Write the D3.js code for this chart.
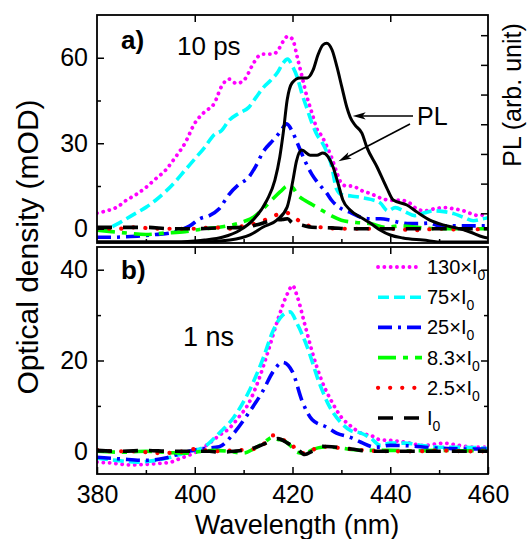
<!DOCTYPE html>
<html><head><meta charset="utf-8">
<script src="https://cdn.jsdelivr.net/npm/d3@7"></script>
<style>
html,body{margin:0;padding:0;background:#fff;}
svg{display:block;font-family:"Liberation Sans", Arial, sans-serif;}
</style></head><body>
<svg id="chart" width="527" height="539"></svg>
<script>
// ---------- data ----------
const wavelengthTicks = [380, 400, 420, 440, 460];
const wavelengthMinor = [390, 410, 430, 450];
const odTicksA = [0, 30, 60];
const odMinorA = [15, 45];
const odTicksB = [0, 20, 40];
const odMinorB = [10, 30];
const plTicks = [1, 2, 3, 4, 5, 6, 7];

const legendBase = ["130×I", "75×I", "25×I", "8.3×I", "2.5×I", "I"];
const legendSub = ["0", "0", "0", "0", "0", "0"];

// 10 ps transient absorption (mOD) for each excitation intensity
const a130 = [[380,5.5],[382,6.3],[384,7.5],[386,10],[388,12],[390,14.5],[392,17.5],[394,20.5],[396,25],[398,30],[400,37],[402,41],[404,44],[405.5,50],[407,52.5],[408.5,51],[410,52],[412,58],[413,60.5],[414,61.3],[416,61.3],[417,62.5],[418,65.5],[419,67.5],[420,66.5],[421,60],[422,53],[423,46],[424,40.5],[425,35],[426,32.5],[427,29],[428,25],[429,20],[430,16],[431,15],[432,15],[433,14.5],[434,13.5],[436,12.3],[438,10.8],[440,10],[442,10],[444,9],[445,7.5],[447,6.3],[449,7],[451,7.4],[453,7],[455,6.3],[457,5],[458,4.6],[460,5.5]];
const a75 = [[380,-0.5],[382,0],[384,1.5],[386,3.5],[388,5.5],[390,7.5],[392,10],[394,13],[396,16.5],[398,20.5],[400,24.5],[402,28.5],[404,33],[405.5,34.5],[407,38],[409,40.5],[411,42.5],[412.5,46],[414,49.5],[415.5,52],[417,55],[418,58],[419,59.5],[420,57],[421,53],[422,47],[423,42],[424,37],[425,33],[426,30.5],[427,27],[428,22],[429,14],[430,12],[432,11.5],[434,11],[436,10.3],[438,9],[439.5,6.3],[441,7.4],[443,6],[445,4.6],[447,5.6],[449,6.3],[451,6],[453,5.3],[455,4],[457,2.8],[459,3.5],[460,3.9]];
const a25 = [[380,-3],[383,-3],[386,-2.8],[389,-2.5],[392,-2],[395,-1.5],[397,-0.5],[399,1],[401,3.5],[403,4.6],[405,7],[407,12],[409,15.5],[411,18],[412.5,22],[414,27],[416,31],[417.5,34],[418.8,36.8],[420,34],[421,30],[422.5,24],[424,19],[425.5,15.5],[427,12.5],[428,10],[430,7],[432,5.6],[434,4],[436,3.5],[438,3.5],[440,3],[442,2.2],[444,1.8],[446,1.8],[448,2],[450,1],[452,1],[455,1],[458,1],[460,1]];
const a8 = [[380,-0.5],[383,-1],[386,-1.5],[390,-2],[394,-1.5],[398,-1],[400,-0.5],[402,0],[405,0.5],[408,1.5],[410,2.5],[412,4],[414,7],[416,10.5],[417.5,13],[419,15],[420,14.5],[421,12],[422.5,10],[424,8.5],[426,6.5],[428,4.5],[430,3],[433,2.2],[436,1.8],[439,0.5],[442,1],[446,0.4],[450,0],[455,0],[460,0]];
const a2 = [[380,0],[384,0],[388,0.5],[392,0],[396,0],[400,0],[404,0.5],[407,0],[410,1],[413,2.2],[415,3.5],[417,5],[419,5.5],[420,4.5],[422,2],[424,0.8],[426,0.5],[430,0],[435,0],[440,0],[445,-0.5],[450,0],[455,-0.3],[460,0]];
const a1 = [[380,0.5],[385,0.5],[390,0.5],[395,0],[400,0],[405,0.3],[410,0.5],[413,1.5],[416,3],[418,3.3],[419,3.5],[420,2],[422,1.2],[424,0.5],[428,0.3],[432,0],[440,0],[450,0],[460,0]];

// photoluminescence spectra (arb. unit, right axis)
const plOuter = [[380,0.03],[395,0.03],[400,0.07],[402,0.1],[405.8,0.2],[409.3,0.44],[411.9,0.77],[414.8,1.45],[416.4,2.12],[417.4,2.9],[418.1,3.7],[418.9,4.81],[419.9,5.39],[421.5,5.56],[423,5.56],[424.2,5.82],[425.2,6.33],[426.2,6.67],[427,6.73],[428.1,6.5],[429.1,5.93],[430.1,5.25],[431.1,4.58],[431.8,4.24],[432.8,3.97],[434.2,3.7],[435.2,3.23],[437.3,2.56],[439.3,1.85],[440.6,1.45],[443.4,1.28],[445.5,1.04],[448.1,0.77],[450.8,0.61],[453.7,0.5],[456.3,0.37],[459,0.2],[460,0.17]];
const plInner = [[380,0.03],[401,0.03],[407.2,0.1],[411.3,0.27],[414,0.54],[416.8,0.77],[418.9,1.21],[420.1,2.12],[420.8,2.75],[421.9,3.13],[423.6,2.96],[425,2.96],[426.2,3.03],[427.3,2.9],[428.3,2.56],[429.3,2.02],[430.3,1.45],[431.8,1.11],[434.2,0.84],[435.9,0.67],[437.9,0.44],[440,0.27],[442.6,0.17],[446.7,0.1],[450.8,0.03],[460,0.03]];

// 1 ns transient absorption (mOD)
const b130 = [[380,-2.4],[383,-2.6],[387,-3],[391,-2.8],[395,-2.4],[397,-1.6],[400,-0.3],[403,1.8],[405,3.5],[407,5],[409,7.5],[411,10.5],[413,15.5],[415,22],[417,29],[419,34.8],[420,36.5],[421,34],[422.5,28],[424,22],[426,15.5],[428,11],[430,7.5],[432,5.5],[434,4],[436,3.5],[438,2.5],[440,2.4],[443,2],[447,1.3],[451,1.8],[454,1.3],[457,0.9],[460,0.9]];
const b75 = [[380,-1.5],[384,-2],[388,-2.4],[392,-2],[396,-1],[399,0],[402,1],[405,4],[408,7.5],[411,13],[414,20.5],[416,26.5],[418,30],[419.5,30.7],[421,28],[423,23],[425.5,15],[427.5,10],[430,6.2],[432,4.5],[434,4],[436,2.9],[438,1.3],[440,1.8],[443,1.8],[447,1.2],[450,0.9],[455,0.9],[460,0.6]];
const b25 = [[380,-1.3],[385,-1.7],[390,-2],[394,-1.5],[397,-0.5],[401,0.5],[405,1],[408,4],[411,8.4],[414,13.4],[416,17.5],[418,19.6],[420,17.5],[422,11],[424,7],[427,5.3],[429,4],[432,3],[434,2],[437,0.9],[440,1.3],[444,1.2],[448,0.8],[452,0.6],[456,0.5],[460,0.5]];
const b8 = [[380,0],[385,-0.2],[390,0],[395,-0.3],[398,-0.4],[400,-0.2],[404,0.2],[407,0],[410,-0.4],[412,0.5],[414,1.8],[416,3.1],[417,2.6],[418,2.5],[419.5,1.3],[421,-0.2],[422.5,-0.5],[424,0.3],[426,0.9],[428,0.9],[430,0.7],[432,0.4],[435,0.2],[440,0.2],[445,0.1],[450,0.2],[455,0.1],[460,0.2]];
const b2 = [[380,0.3],[384,0],[388,0],[392,-0.4],[396,-0.3],[400,0.5],[404,0],[408,0.2],[412,0.5],[414,1.5],[416,3.5],[418,2.5],[419.5,2],[421,0],[423,-0.5],[425,0.8],[427,1],[430,0.7],[434,0.3],[440,0],[445,0],[450,0.2],[455,0],[460,0]];
const b1 = [[380,0.2],[385,0],[390,0.2],[395,0],[400,0],[403,0],[405,-0.2],[408,0],[412,0.7],[415,2],[417,2.8],[419,1.8],[421,0.5],[422.5,-0.7],[424,0],[426,1.1],[428,1],[432,0.5],[436,0],[440,0],[450,0],[460,0]];

// ---------- styles ----------
const seriesStyles = [
  {color: "#ff00ff", dash: "0.1,6.2", cap: "round", width: 3.8},
  {color: "#00ffff", dash: "11,5", cap: "butt", width: 3.6},
  {color: "#0000ff", dash: "14,6,3,6", cap: "butt", width: 3.6},
  {color: "#00ff00", dash: "18,7,5,7", cap: "butt", width: 3.6},
  {color: "#ff0000", dash: "0.1,12", cap: "round", width: 4.2},
  {color: "#000000", dash: "15,11", cap: "butt", width: 3.6}
];

// ---------- layout ----------
const svg = d3.select("#chart");
const L = 97, R = 488;
const topA = 15, botA = 243, topB = 247, botB = 474;

const x = d3.scaleLinear().domain([380, 460]).range([L, R]);
const yA = d3.scaleLinear().domain([-5, 75]).range([botA, topA]);
const yPL = d3.scaleLinear().domain([0, 7.68]).range([botA, topA]);
const yB = d3.scaleLinear().domain([-5, 45]).range([botB, topB]);

const defs = svg.append("defs");
defs.append("clipPath").attr("id", "clipA").append("rect")
  .attr("x", L).attr("y", topA).attr("width", R - L).attr("height", botA - topA);
defs.append("clipPath").attr("id", "clipB").append("rect")
  .attr("x", L).attr("y", topB).attr("width", R - L).attr("height", botB - topB);

function drawSeries(g, data, y, st) {
  const line = d3.line().x(d => x(d[0])).y(d => y(d[1])).curve(d3.curveMonotoneX);
  g.append("path").attr("d", line(data))
    .attr("fill", "none").attr("stroke", st.color)
    .attr("stroke-width", st.width).attr("stroke-dasharray", st.dash)
    .attr("stroke-linecap", st.cap).attr("stroke-linejoin", "round");
}

// panel a curves
const gA = svg.append("g").attr("clip-path", "url(#clipA)");
[a130, a75, a25, a8, a2, a1].forEach((d, i) => drawSeries(gA, d, yA, seriesStyles[i]));
const plLine = d3.line().x(d => x(d[0])).y(d => yPL(d[1])).curve(d3.curveMonotoneX);
[plOuter, plInner].forEach(d => {
  gA.append("path").attr("d", plLine(d)).attr("fill", "none")
    .attr("stroke", "#000").attr("stroke-width", 3).attr("stroke-linejoin", "round");
});

// panel b curves
const gB = svg.append("g").attr("clip-path", "url(#clipB)");
[b130, b75, b25, b8, b2, b1].forEach((d, i) => drawSeries(gB, d, yB, seriesStyles[i]));

// ---------- axes ----------
const fontTick = 25;
function styleAxis(g) {
  g.select(".domain").remove();
  g.selectAll(".tick line").attr("stroke", "#000").attr("stroke-width", 1.5);
  g.selectAll(".tick text").attr("fill", "#000").style("font-size", fontTick + "px")
    .style("font-family", '"Liberation Sans", Arial, sans-serif');
}
const noLabel = () => "";

// panel a left
svg.append("g").attr("transform", `translate(${L},0)`)
  .call(d3.axisLeft(yA).tickValues(odTicksA).tickSize(-7).tickPadding(9)).call(styleAxis);
svg.append("g").attr("transform", `translate(${L},0)`)
  .call(d3.axisLeft(yA).tickValues(odMinorA).tickSize(-4).tickFormat(noLabel)).call(styleAxis);
// panel a right (PL)
svg.append("g").attr("transform", `translate(${R},0)`)
  .call(d3.axisRight(yPL).tickValues(plTicks).tickSize(-7).tickFormat(noLabel)).call(styleAxis);
// panel a top and bottom
svg.append("g").attr("transform", `translate(0,${topA})`)
  .call(d3.axisTop(x).tickValues(wavelengthTicks.slice(1, -1)).tickSize(-7).tickFormat(noLabel)).call(styleAxis);
svg.append("g").attr("transform", `translate(0,${botA})`)
  .call(d3.axisBottom(x).tickValues(wavelengthTicks.slice(1, -1)).tickSize(-7).tickFormat(noLabel)).call(styleAxis);
svg.append("g").attr("transform", `translate(0,${botA})`)
  .call(d3.axisBottom(x).tickValues(wavelengthMinor).tickSize(-4).tickFormat(noLabel)).call(styleAxis);

// panel b left
svg.append("g").attr("transform", `translate(${L},0)`)
  .call(d3.axisLeft(yB).tickValues(odTicksB).tickSize(-7).tickPadding(9)).call(styleAxis);
svg.append("g").attr("transform", `translate(${L},0)`)
  .call(d3.axisLeft(yB).tickValues(odMinorB).tickSize(-4).tickFormat(noLabel)).call(styleAxis);
// panel b right
svg.append("g").attr("transform", `translate(${R},0)`)
  .call(d3.axisRight(yB).tickValues(odTicksB).tickSize(-7).tickFormat(noLabel)).call(styleAxis);
svg.append("g").attr("transform", `translate(${R},0)`)
  .call(d3.axisRight(yB).tickValues(odMinorB).tickSize(-4).tickFormat(noLabel)).call(styleAxis);
// panel b top and bottom
svg.append("g").attr("transform", `translate(0,${topB})`)
  .call(d3.axisTop(x).tickValues(wavelengthTicks.slice(1, -1)).tickSize(-7).tickFormat(noLabel)).call(styleAxis);
svg.append("g").attr("transform", `translate(0,${botB})`)
  .call(d3.axisBottom(x).tickValues(wavelengthTicks).tickSize(-7).tickPadding(11)).call(styleAxis);
svg.append("g").attr("transform", `translate(0,${botB})`)
  .call(d3.axisBottom(x).tickValues(wavelengthMinor).tickSize(-4).tickFormat(noLabel)).call(styleAxis);

// frames
[[topA, botA], [topB, botB]].forEach(([t, b]) => {
  svg.append("rect").attr("x", L).attr("y", t).attr("width", R - L).attr("height", b - t)
    .attr("fill", "none").attr("stroke", "#000").attr("stroke-width", 1.8);
});

// ---------- titles ----------
svg.append("text").attr("x", 297).attr("y", 534).attr("text-anchor", "middle")
  .style("font-size", "27px").text("Wavelength (nm)");
svg.append("text").attr("transform", "translate(38,247) rotate(-90)").attr("text-anchor", "middle")
  .style("font-size", "30px").text("Optical density (mOD)");
svg.append("text").attr("transform", "translate(521,95) rotate(-90)").attr("text-anchor", "middle")
  .style("font-size", "25px").text("PL (arb. unit)");

// panel labels
svg.append("text").attr("x", 121).attr("y", 49).style("font-size", "26px").style("font-weight", "bold").text("a)");
svg.append("text").attr("x", 177).attr("y", 55).style("font-size", "26px").text("10 ps");
svg.append("text").attr("x", 121).attr("y", 279).style("font-size", "26px").style("font-weight", "bold").text("b)");
svg.append("text").attr("x", 183).attr("y", 346).style("font-size", "27px").text("1 ns");

// PL annotation with arrows
svg.append("text").attr("x", 417).attr("y", 125).style("font-size", "25px").text("PL");
function arrow(tail, tip) {
  const dx = tip[0] - tail[0], dy = tip[1] - tail[1];
  const len = Math.hypot(dx, dy), ux = dx / len, uy = dy / len;
  const px = -uy, py = ux, hl = 13, hw = 3.6;
  svg.append("line").attr("x1", tail[0]).attr("y1", tail[1])
    .attr("x2", tip[0] - ux * hl * 0.6).attr("y2", tip[1] - uy * hl * 0.6)
    .attr("stroke", "#000").attr("stroke-width", 1.6);
  const p = [
    [tip[0], tip[1]],
    [tip[0] - ux * hl + px * hw, tip[1] - uy * hl + py * hw],
    [tip[0] - ux * hl * 0.75, tip[1] - uy * hl * 0.75],
    [tip[0] - ux * hl - px * hw, tip[1] - uy * hl - py * hw]
  ];
  svg.append("path").attr("d", "M" + p.map(q => q.join(",")).join("L") + "Z").attr("fill", "#000");
}
arrow([413, 116], [x(431.7) + 3, yPL(4.28)]);
arrow([410, 124], [x(428.8) + 3, yPL(2.75)]);

// ---------- legend ----------
const lg = svg.append("g");
legendBase.forEach((t, i) => {
  const yy = 267 + i * 30.2;
  const st = seriesStyles[i];
  lg.append("line").attr("x1", 378).attr("x2", 422).attr("y1", yy).attr("y2", yy)
    .attr("stroke", st.color).attr("stroke-width", st.width)
    .attr("stroke-dasharray", st.dash).attr("stroke-linecap", st.cap);
  const tx = lg.append("text").attr("x", 427).attr("y", yy + 7).style("font-size", "20px");
  tx.append("tspan").text(t);
  tx.append("tspan").attr("dy", 6).style("font-size", "14px").text(legendSub[i]);
});
</script>
</body></html>
